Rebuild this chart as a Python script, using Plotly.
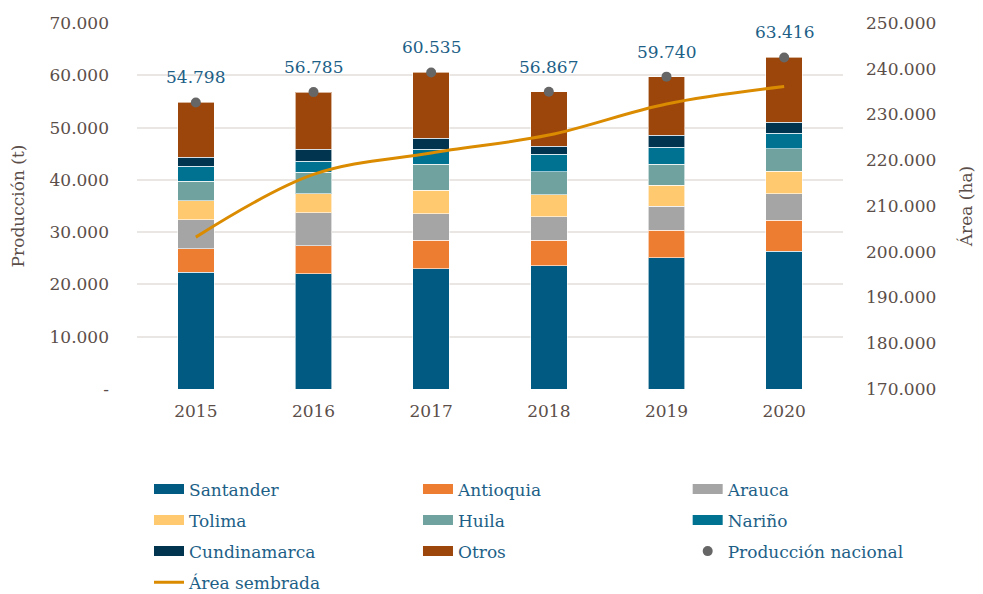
import plotly.graph_objects as go

years = ["2015", "2016", "2017", "2018", "2019", "2020"]

santander = [22340, 22090, 23040, 23550, 25140, 26350]
antioquia = [4450, 5350, 5410, 4900, 5220, 5920]
arauca = [5600, 6300, 5030, 4460, 4590, 5090]
tolima = [3570, 3620, 4580, 4200, 4010, 4330]
huila = [3820, 4140, 4970, 4460, 4070, 4270]
narino = [2860, 2100, 2860, 3310, 3250, 2990]
cundinamarca = [1660, 2230, 2040, 1520, 2220, 2100]
otros = [10498, 10955, 12605, 10467, 11240, 12366]

produccion_nacional = [54798, 56785, 60535, 56867, 59740, 63416]
produccion_labels = ["54.798", "56.785", "60.535", "56.867", "59.740", "63.416"]
area_sembrada = [203200, 216900, 221600, 225500, 232300, 236100]

left_ticks = [0, 10000, 20000, 30000, 40000, 50000, 60000, 70000]
left_labels = ["-", "10.000", "20.000", "30.000", "40.000", "50.000", "60.000", "70.000"]
right_ticks = [170000, 180000, 190000, 200000, 210000, 220000, 230000, 240000, 250000]
right_labels = ["170.000", "180.000", "190.000", "200.000", "210.000", "220.000",
                "230.000", "240.000", "250.000"]

# name, values, colour, legend column
series = [
    ("Santander", santander, "#005A82", "legend"),
    ("Antioquia", antioquia, "#ED7D31", "legend2"),
    ("Arauca", arauca, "#A5A5A5", "legend3"),
    ("Tolima", tolima, "#FFC970", "legend"),
    ("Huila", huila, "#70A3A0", "legend2"),
    ("Nariño", narino, "#007291", "legend3"),
    ("Cundinamarca", cundinamarca, "#00344F", "legend"),
    ("Otros", otros, "#9C460C", "legend2"),
]

FONT = "DejaVu Serif"
TICK_COLOR = "#5B4E49"
BLUE = "#1D5F87"

fig = go.Figure()
for name, vals, col, lg in series:
    fig.add_trace(go.Bar(
        x=years, y=vals, name=name, legendgroup=name, showlegend=False,
        marker=dict(color=col, line=dict(color="rgba(255,255,255,0.6)", width=1)),
        width=0.31, yaxis="y",
    ))
    # legend-only entry drawn as a wide swatch
    fig.add_trace(go.Scatter(
        x=[None], y=[None], name=name, legend=lg, legendgroup=name,
        mode="lines", line=dict(color=col, width=13), hoverinfo="skip",
    ))

fig.add_trace(go.Scatter(
    x=years, y=produccion_nacional, name="Producción nacional",
    legend="legend3", legendgroup="pn",
    mode="markers",
    marker=dict(color="#666666", size=10),
    yaxis="y", cliponaxis=False,
))

fig.add_trace(go.Scatter(
    x=years, y=area_sembrada, name="Área sembrada",
    legend="legend", legendgroup="area",
    mode="lines",
    line=dict(color="#DA8B00", width=3, shape="spline", smoothing=1.0),
    yaxis="y2",
))

# category axis: annotations are positioned by category index
for i, (v, lab) in enumerate(zip(produccion_nacional, produccion_labels)):
    fig.add_annotation(x=i, y=v, xref="x", yref="y", text=lab, showarrow=False,
                       yshift=25, font=dict(family=FONT, size=17, color=BLUE))

legend_common = dict(orientation="v", yanchor="top", y=-0.225, xanchor="left",
                     font=dict(family=FONT, size=17, color=BLUE),
                     tracegroupgap=6, bgcolor="rgba(0,0,0,0)")

fig.update_layout(
    width=983, height=594,
    barmode="stack",
    plot_bgcolor="white", paper_bgcolor="white",
    margin=dict(l=129, r=148, t=15, b=213, autoexpand=False),
    font=dict(family=FONT, size=17, color=TICK_COLOR),
    xaxis=dict(type="category", categoryorder="array", categoryarray=years,
               range=[-0.5, len(years) - 0.5],
               showgrid=False, showline=False, ticks="",
               ticklabelstandoff=10,
               tickfont=dict(family=FONT, size=17, color=TICK_COLOR)),
    yaxis=dict(range=[0, 70000], tickvals=left_ticks, ticktext=left_labels,
               showgrid=True, gridcolor="#E9E6E3", gridwidth=1.5,
               zeroline=False, ticks="", ticklabelstandoff=27,
               title=dict(text="Producción (t)", font=dict(family=FONT, size=17, color=TICK_COLOR),
                          standoff=30),
               tickfont=dict(family=FONT, size=17, color=TICK_COLOR)),
    yaxis2=dict(range=[170000, 250000], tickvals=right_ticks, ticktext=right_labels,
                overlaying="y", side="right", showgrid=False, zeroline=False, ticks="",
                ticklabelstandoff=22,
                title=dict(text="Área (ha)", font=dict(family=FONT, size=17, color=TICK_COLOR),
                           standoff=24),
                tickfont=dict(family=FONT, size=17, color=TICK_COLOR)),
    legend=dict(x=0.017, **legend_common),
    legend2=dict(x=0.398, **legend_common),
    legend3=dict(x=0.780, **legend_common),
    showlegend=True,
)

fig.write_html("out.html")
